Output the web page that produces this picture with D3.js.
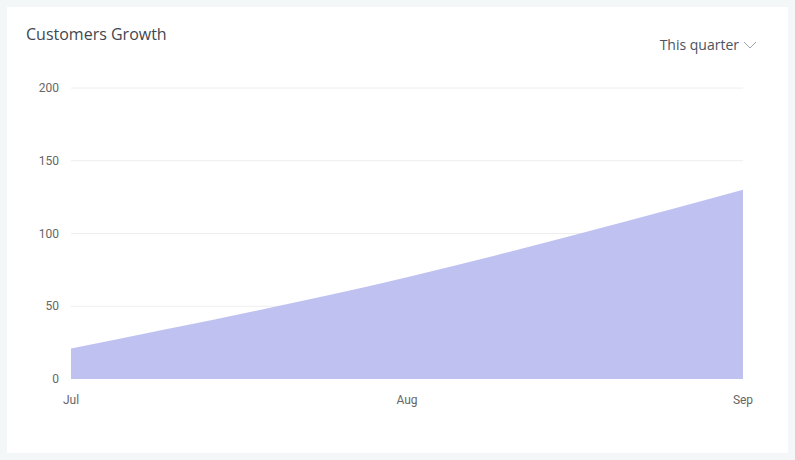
<!DOCTYPE html><html><head><meta charset="utf-8">
<script src="https://cdn.jsdelivr.net/npm/d3@7"></script>
<style>body{margin:0;background:#f4f7f8;}svg{display:block}</style></head><body>
<svg id="c" width="795" height="460"></svg>
<script>
const categories=["Jul","Aug","Sep"];
const customers=[21,70,130];
const yTicks=[0,50,100,150,200];
const svg=d3.select("#c");
svg.append("rect").attr("x",7).attr("y",7).attr("width",781).attr("height",446).attr("fill","#fff");
svg.append("text").attr("x",26).attr("y",40).text("Customers Growth").attr("font-family","Open Sans").attr("font-size",16).attr("fill","#3f4750");
const lg=svg.append("g");
lg.append("text").attr("x",739).attr("y",50).attr("text-anchor","end").text("This quarter").attr("font-family","Open Sans").attr("font-size",14).attr("fill","#4a5360");
lg.append("path").attr("d","M744,42 L750,48 L756,42").attr("fill","none").attr("stroke","#9aa3ad").attr("stroke-width",1);
const x=d3.scalePoint().domain(categories).range([71,743]);
const y=d3.scaleLinear().domain([0,200]).range([379,88]);
const g=svg.append("g");
g.selectAll("line.grid").data(yTicks.slice(1)).join("line").attr("x1",71).attr("x2",743).attr("y1",d=>y(d)).attr("y2",d=>y(d)).attr("stroke","#eeeeee");
g.selectAll("text.yt").data(yTicks).join("text").attr("x",59).attr("y",d=>y(d)+4).attr("text-anchor","end").text(d=>d).attr("font-family","Roboto").attr("font-size",12).attr("fill","#666");
g.selectAll("text.xt").data(categories).join("text").attr("x",d=>x(d)).attr("y",404).attr("text-anchor","middle").text(d=>d).attr("font-family","Roboto").attr("font-size",12).attr("fill","#666");
const area=d3.area().x((d,i)=>x(categories[i])).y0(y(0)).y1(d=>y(d)).curve(d3.curveMonotoneX);
g.append("path").datum(customers).attr("d",area).attr("fill","#bfc1f1");
</script></body></html>
